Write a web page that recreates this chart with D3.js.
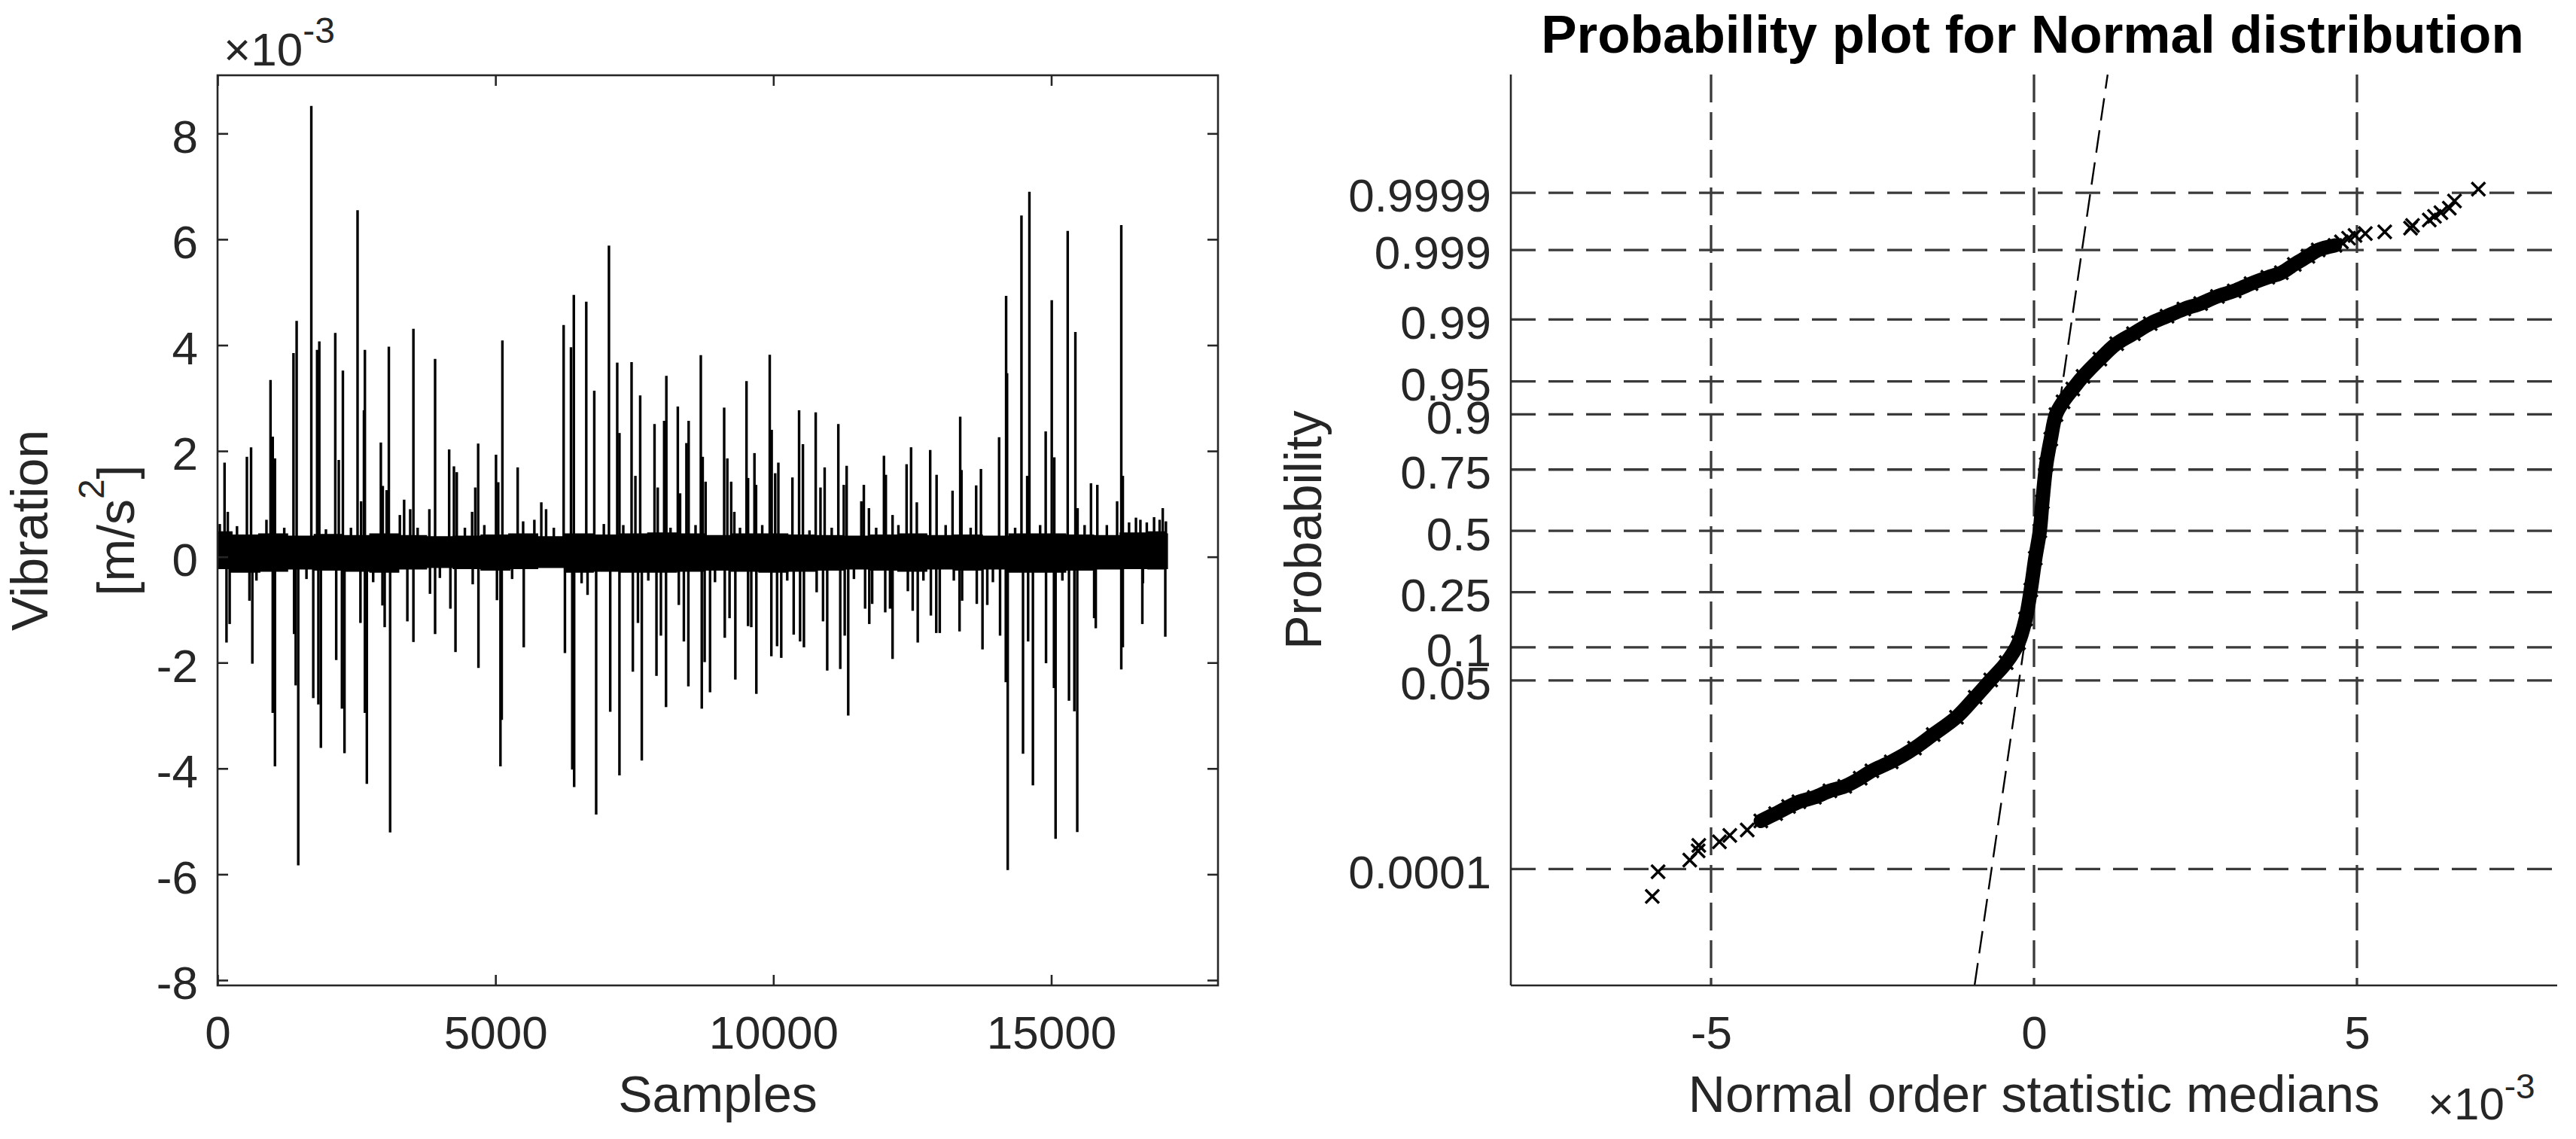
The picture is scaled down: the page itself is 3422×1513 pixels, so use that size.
<!DOCTYPE html>
<html>
<head>
<meta charset="utf-8">
<script src="https://cdn.jsdelivr.net/npm/d3@7"></script>
<style>
  body { margin: 0; background: #fff; }
  svg text { font-family: "Liberation Sans", Arial, Helvetica, sans-serif; fill: #262626; }
</style>
</head>
<body>
<script>
// ---------- left panel: vibration signal, values in 1e-3 m/s^2 ----------
const sampleTicks = [0, 5000, 10000, 15000];
const vibTicks = [-8, -6, -4, -2, 0, 2, 4, 6, 8];

// noise band envelope (read every ~500 samples)
const bandSample = [0, 500, 1000, 1500, 2000, 2500, 3000, 3500, 4000, 4500, 5000, 5500, 6000, 6500, 7000, 7500, 8000, 8500,
  9000, 9500, 10000, 10500, 11000, 11500, 12000, 12500, 13000, 13500, 14000, 14500, 15000, 15500, 16000, 16500, 17000, 17080];
const bandUpper = [0.46, 0.40, 0.42, 0.38, 0.41, 0.39, 0.42, 0.39, 0.37, 0.38, 0.40, 0.42, 0.37, 0.42, 0.40, 0.42, 0.44, 0.42,
  0.39, 0.42, 0.42, 0.40, 0.39, 0.38, 0.40, 0.42, 0.39, 0.40, 0.38, 0.42, 0.42, 0.40, 0.39, 0.44, 0.46, 0.42];
const bandLower = [-0.21, -0.28, -0.26, -0.22, -0.24, -0.26, -0.28, -0.22, -0.19, -0.21, -0.24, -0.21, -0.19, -0.28, -0.26, -0.28, -0.28, -0.26,
  -0.24, -0.26, -0.28, -0.26, -0.24, -0.22, -0.24, -0.26, -0.22, -0.24, -0.22, -0.28, -0.28, -0.24, -0.22, -0.21, -0.22, -0.21];

// small noise peaks sticking out of the band
const noiseSample = [40, 350, 700, 880, 1200, 1600, 1950, 2400, 2800, 3280, 3600, 4000, 4450, 4800, 5300, 5700, 6050, 6550, 6950,
  7300, 7750, 8150, 8600, 8950, 9400, 9800, 10250, 10650, 11050, 11450, 11850, 12250, 12700, 13100, 13550, 13950, 14350,
  14800, 15200, 15600, 16000, 16400, 16650, 16850, 16950];
const noiseValue = [0.62, 0.58, -0.45, 0.70, 0.55, -0.42, 0.52, 0.55, -0.48, 0.79, 0.55, -0.40, 0.55, 0.60, -0.42, 0.70, 0.55, -0.50, 0.62,
  0.60, -0.45, 0.55, 0.60, -0.48, 0.55, 0.60, -0.45, 0.50, 0.55, -0.42, 0.55, 0.60, -0.45, 0.60, 0.55, -0.48, 0.55,
  0.60, -0.45, 0.60, 0.60, 0.65, -0.50, 0.75, 0.70];

// impact spikes: sample index and peak value
const spikeSample = [
  126, 161, 184, 218, 528, 574, 603, 626, 953, 993, 993, 1033, 1033,
  1366, 1377, 1406, 1423, 1452, 1687, 1722, 1791, 1814, 1831, 1859,
  2118, 2135, 2181, 2238, 2255, 2284, 2519, 2571, 2583, 2634, 2651, 2651, 2686,
  2938, 2967, 2973, 3007, 3042, 3082, 3105, 3357, 3415, 3466, 3524, 3524,
  3811, 3822, 3914, 3914, 4167, 4189, 4253, 4281, 4304, 4580, 4591, 4637, 4689, 4694,
  5010, 5027, 5050, 5090, 5113, 5125, 5400, 5498, 5509, 5825, 5911,
  6227, 6250, 6359, 6382, 6410, 6416, 6634, 6657, 6778, 6812,
  7042, 7065, 7191, 7231, 7231, 7449, 7472, 7518, 7564, 7604, 7633,
  7862, 7897, 7920, 7977, 8035, 8069, 8075, 8281, 8299, 8322, 8390, 8436, 8471, 8476,
  8695, 8712, 8729, 8764, 8781, 8861,
  9115, 9126, 9172, 9212, 9241, 9298, 9316, 9517, 9545, 9545, 9603, 9660, 9689, 9694,
  9935, 9964, 9970, 10033, 10067, 10090, 10142, 10343, 10366, 10463, 10481, 10532, 10550,
  10762, 10779, 10848, 10894, 10923, 10969, 11169, 11204, 11267, 11284, 11319, 11347,
  11583, 11628, 11651, 11720, 11726, 11778, 11990, 12013, 12024, 12099, 12145, 12145,
  12397, 12420, 12478, 12507, 12581, 12598, 12822, 12834, 12931, 12937, 12994,
  13224, 13247, 13350, 13362, 13385, 13396, 13649, 13660, 13735, 13763, 13849,
  14062, 14079, 14182, 14188, 14205, 14217, 14464, 14492, 14567, 14584, 14607, 14670,
  14900, 14906, 15009, 15049, 15055, 15078, 15296, 15319, 15416, 15434, 15468, 15474,
  15715, 15772, 15801, 15829, 16185, 16260, 16260, 16288, 16288,
  16524, 16604, 16639, 16719, 17006, 17052, 17063];
const spikeValue = [
  1.78, -1.62, 0.85, -1.27, 1.89, -0.83, 2.07, -2.02, 3.34, 2.27, -2.95, 1.86, -3.96,
  3.85, -1.46, -2.43, 4.46, -5.83, 8.52, -2.67, 3.91, -2.79, 4.07, -3.61,
  4.23, -1.95, 1.83, -2.87, 3.52, -3.71, 6.55, -1.25, 1.05, 2.77, 3.91, -2.95, -4.29,
  2.16, -0.92, 1.34, -1.33, 1.26, 3.97, -5.21, 1.08, -1.22, 0.90, 4.31, -1.61,
  0.90, -0.70, 3.74, -1.46, 2.03, -0.98, 1.71, -1.80, 1.60, 0.85, -0.52, 1.31, 2.14, -2.10,
  1.93, -0.82, 1.41, -3.96, -3.08, 4.09, 1.69, 0.67, -1.71, 1.03, 0.90,
  4.38, -1.82, 3.96, -4.02, 4.95, -4.35, 4.82, -0.72, 3.14, -4.87,
  5.88, -2.93, 3.67, 2.34, -4.13, 3.68, -2.17, 1.53, -1.25, 3.05, -3.85,
  2.51, -2.25, 1.31, -1.49, 2.57, -2.84, 3.42, 2.84, -0.91, 1.20, -1.60, 2.15, -2.45, 2.57,
  3.81, -2.87, 1.89, -1.99, 1.42, -2.56,
  2.82, -1.53, 1.86, -1.16, 1.42, 0.85, -2.32, 3.32, 1.49, -1.31, -1.33, 1.96, 1.36, -2.59,
  3.82, -1.88, 2.40, 1.58, -1.69, 1.78, -1.91, 1.50, -1.47, 2.77, -1.60, 2.13, -1.71,
  2.73, -0.67, 1.31, -1.22, 1.69, -2.15, 2.51, -2.12, 1.36, -1.49, 1.72, -3.00,
  1.05, 1.36, -0.98, 0.92, -1.27, -0.89, 1.91, -1.05, 1.55, -0.98, 0.79, -1.93,
  1.75, -0.65, 2.07, -1.02, 1.03, -1.62, 2.02, -1.11, -1.44, 1.55, -1.44,
  1.25, -0.45, -1.41, 2.65, 1.64, -0.83, 1.35, -0.89, 1.66, -1.75, -0.91,
  2.26, -1.49, -2.37, 4.93, 3.47, -5.92, 6.45, -3.72, 1.53, -1.60, 6.90, -4.32,
  2.37, -2.01, 4.85, -2.48, 1.88, -5.33, 6.16, -2.72, -2.92, 4.25, -5.20, 0.92,
  1.39, -1.16, -1.35, 1.36, 1.05, 6.27, -2.13, 1.53, -1.71,
  0.74, 0.70, -1.27, 0.65, 0.92, -1.51, 0.67];

// ---------- right panel: normal probability plot ----------
const probTicks = [0.0001, 0.05, 0.1, 0.25, 0.5, 0.75, 0.9, 0.95, 0.99, 0.999, 0.9999];
const probTickLabels = ["0.0001", "0.05", "0.1", "0.25", "0.5", "0.75", "0.9", "0.95", "0.99", "0.999", "0.9999"];
const medianTicks = [-5, 0, 5];

// dense body of the sorted data (x in 1e-3)
const curveValue = [-4.23, -4.00, -3.64, -3.40, -3.16, -2.93, -2.69, -2.51, -2.21, -1.85, -1.56, -1.20, -0.91, -0.67, -0.43, -0.24, -0.13, -0.05,
  0.02, 0.09, 0.13, 0.19, 0.26, 0.34, 0.45, 0.60, 0.76, 1.02, 1.28, 1.54, 1.80, 2.06, 2.32, 2.58, 2.84, 3.10, 3.36, 3.62, 3.83, 4.03, 4.24, 4.40, 4.66];
const curveProb = [7.11e-4, 9.36e-4, 0.00144, 0.00169, 0.00212, 0.00248, 0.00326, 0.00415, 0.00554, 0.00842, 0.01255, 0.0202, 0.0336, 0.0505, 0.0735, 0.1093, 0.166, 0.258,
  0.382, 0.5, 0.6255, 0.7673, 0.8438, 0.8997, 0.9222, 0.9406, 0.9554, 0.9706, 0.9803, 0.985, 0.9887, 0.9909, 0.99266, 0.99379, 0.99506, 0.99585, 0.99674, 0.99736, 0.99774, 0.99831, 0.99874, 0.999, 0.999155];

// sparse tails, one marker each
const tailValue = [-5.91, -5.82, -5.33, -5.20, -5.19, -4.87, -4.71, -4.44, -3.80,
  4.76, 4.87, 4.97, 5.13, 5.43, 5.83, 5.86, 6.12, 6.20, 6.30, 6.43, 6.51, 6.88, 8.52];
const tailProb = [2.91e-5, 8.84e-5, 1.47e-4, 2.16e-4, 2.70e-4, 3.13e-4, 4.04e-4, 5.01e-4, 1.22e-3,
  0.999264, 0.999359, 0.999423, 0.999462, 0.999499, 0.999566, 0.99961, 0.999687, 0.99973, 0.999767, 0.999807, 0.999858, 0.999915, 0.999971];

// reference line end points
const fitValue = [-0.92, 1.14];
const fitProb = [2.87e-7, 0.99999974];

// inverse standard normal cdf (Acklam)
function probit(p) {
  const a = [-39.69683028665376, 220.9460984245205, -275.9285104469687, 138.3577518672690, -30.66479806614716, 2.506628277459239];
  const b = [-54.47609879822406, 161.5858368580409, -155.6989798598866, 66.80131188771972, -13.28068155288572];
  const c = [-0.007784894002430293, -0.3223964580411365, -2.400758277161838, -2.549732539343734, 4.374664141464968, 2.938163982698783];
  const d = [0.007784695709041462, 0.3224671290700398, 2.445134137142996, 3.754408661907416];
  const plow = 0.02425;
  if (p < plow) {
    const q = Math.sqrt(-2 * Math.log(p));
    return (((((c[0] * q + c[1]) * q + c[2]) * q + c[3]) * q + c[4]) * q + c[5]) / ((((d[0] * q + d[1]) * q + d[2]) * q + d[3]) * q + 1);
  }
  if (p > 1 - plow) {
    const q = Math.sqrt(-2 * Math.log(1 - p));
    return -(((((c[0] * q + c[1]) * q + c[2]) * q + c[3]) * q + c[4]) * q + c[5]) / ((((d[0] * q + d[1]) * q + d[2]) * q + d[3]) * q + 1);
  }
  const q = p - 0.5, r = q * q;
  return (((((a[0] * r + a[1]) * r + a[2]) * r + a[3]) * r + a[4]) * r + a[5]) * q / (((((b[0] * r + b[1]) * r + b[2]) * r + b[3]) * r + b[4]) * r + 1);
}

const w = 3422, h = 1513;
const axisColor = "#262626";
const tickFont = 62, labelFont = 68;

const svg = d3.select("body").append("svg")
  .attr("width", w).attr("height", h)
  .style("background", "#fff");

function styleAxis(g) {
  g.select(".domain").remove();
  g.selectAll(".tick line").attr("stroke", axisColor).attr("stroke-width", 2.6);
  g.selectAll(".tick text").attr("fill", axisColor).style("font-size", tickFont + "px");
}

// ================= left panel =================
const L = { left: 289, right: 1618, top: 100, bottom: 1309 };
const xScale = d3.scaleLinear().domain([0, 18000]).range([L.left, L.right]);
const yScale = d3.scaleLinear().domain([-8.1, 9.1]).range([L.bottom, L.top]);

svg.append("clipPath").attr("id", "clipL").append("rect")
  .attr("x", L.left).attr("y", L.top).attr("width", L.right - L.left).attr("height", L.bottom - L.top);

const sig = svg.append("g").attr("clip-path", "url(#clipL)");

const band = bandSample.map((s, i) => ({ s, hi: bandUpper[i], lo: bandLower[i] }));
sig.append("path")
  .datum(band)
  .attr("fill", "#000")
  .attr("stroke", "#000")
  .attr("stroke-width", 3)
  .attr("d", d3.area().curve(d3.curveStep).x(d => xScale(d.s)).y0(d => yScale(d.lo)).y1(d => yScale(d.hi)));

const lines = spikeSample.map((s, i) => ({ s, v: spikeValue[i] }))
  .concat(noiseSample.map((s, i) => ({ s, v: noiseValue[i] })));
sig.selectAll(".spike")
  .data(lines)
  .enter()
  .append("line")
  .attr("class", "spike")
  .attr("x1", d => xScale(d.s))
  .attr("x2", d => xScale(d.s))
  .attr("y1", yScale(0.1))
  .attr("y2", d => yScale(d.v))
  .attr("stroke", "#000")
  .attr("stroke-width", 3.4);

svg.append("g")
  .attr("transform", `translate(0,${L.bottom})`)
  .call(d3.axisBottom(xScale).tickValues(sampleTicks).tickSizeInner(-14).tickSizeOuter(0).tickPadding(40).tickFormat(d => String(d)))
  .call(styleAxis);
svg.append("g")
  .attr("transform", `translate(0,${L.top})`)
  .call(d3.axisTop(xScale).tickValues(sampleTicks).tickSizeInner(-14).tickSizeOuter(0).tickFormat(""))
  .call(styleAxis);
svg.append("g")
  .attr("transform", `translate(${L.left},0)`)
  .call(d3.axisLeft(yScale).tickValues(vibTicks).tickSizeInner(-14).tickSizeOuter(0).tickPadding(26).tickFormat(d => String(d)))
  .call(styleAxis)
  .call(g => g.selectAll(".tick text").attr("dy", "0.4em"));
svg.append("g")
  .attr("transform", `translate(${L.right},0)`)
  .call(d3.axisRight(yScale).tickValues(vibTicks).tickSizeInner(-14).tickSizeOuter(0).tickFormat(""))
  .call(styleAxis);

svg.append("rect")
  .attr("x", L.left).attr("y", L.top)
  .attr("width", L.right - L.left).attr("height", L.bottom - L.top)
  .attr("fill", "none").attr("stroke", axisColor).attr("stroke-width", 2.6);

// exponent label
const expL = svg.append("text").attr("x", 297).attr("y", 87).style("font-size", "62px");
expL.append("tspan").text("\u00d710");
expL.append("tspan").attr("dy", -30).style("font-size", "48px").text("-3");

svg.append("text")
  .attr("x", (L.left + L.right) / 2).attr("y", 1477)
  .attr("text-anchor", "middle").style("font-size", labelFont + "px")
  .text("Samples");

svg.append("text")
  .attr("transform", `translate(63,${(L.top + L.bottom) / 2}) rotate(-90)`)
  .attr("text-anchor", "middle").style("font-size", labelFont + "px")
  .text("Vibration");
const unit = svg.append("text")
  .attr("transform", `translate(178,${(L.top + L.bottom) / 2}) rotate(-90)`)
  .attr("text-anchor", "middle").style("font-size", labelFont + "px");
unit.append("tspan").text("[m/s");
unit.append("tspan").attr("dy", -40).style("font-size", "48px").text("2");
unit.append("tspan").attr("dy", 40).text("]");

// ================= right panel =================
const R = { left: 2007, right: 3397, top: 99, bottom: 1309 };
const xProb = d3.scaleLinear().domain([-8.1, 8.1]).range([R.left, R.right]);
const zScale = d3.scaleLinear().domain([-5.0, 5.02]).range([R.bottom, R.top]);
const yProb = p => zScale(probit(p));

svg.append("clipPath").attr("id", "clipR").append("rect")
  .attr("x", R.left).attr("y", R.top).attr("width", R.right - R.left).attr("height", R.bottom - R.top);

const plot = svg.append("g").attr("clip-path", "url(#clipR)");

// dashed probability grid
plot.selectAll(".hgrid")
  .data(probTicks)
  .enter()
  .append("line")
  .attr("class", "hgrid")
  .attr("x1", R.left).attr("x2", R.right)
  .attr("y1", d => yProb(d)).attr("y2", d => yProb(d))
  .attr("stroke", "#3a3a3a").attr("stroke-width", 3.3)
  .attr("stroke-dasharray", "33,17");
plot.selectAll(".vgrid")
  .data(medianTicks)
  .enter()
  .append("line")
  .attr("class", "vgrid")
  .attr("x1", d => xProb(d)).attr("x2", d => xProb(d))
  .attr("y1", R.top).attr("y2", R.bottom)
  .attr("stroke", "#3a3a3a").attr("stroke-width", 3.3)
  .attr("stroke-dasharray", "37,13");

// reference line
plot.append("path")
  .datum(fitValue.map((v, i) => ({ v, p: fitProb[i] })))
  .attr("fill", "none").attr("stroke", "#000").attr("stroke-width", 2.4)
  .attr("stroke-dasharray", "30,13")
  .attr("d", d3.line().x(d => xProb(d.v)).y(d => yProb(d.p)));

// dense body: overlapping markers drawn as a thick band
const curve = curveValue.map((v, i) => ({ v, p: curveProb[i] }));
plot.append("path")
  .datum(curve)
  .attr("fill", "none").attr("stroke", "#000").attr("stroke-width", 19)
  .attr("stroke-linecap", "round").attr("stroke-linejoin", "round")
  .attr("d", d3.line().curve(d3.curveCatmullRom).x(d => xProb(d.v)).y(d => yProb(d.p)));

const cross = "M-9,-9L9,9M-9,9L9,-9";
const markers = curve.concat(tailValue.map((v, i) => ({ v, p: tailProb[i] })));
plot.selectAll(".mk")
  .data(markers)
  .enter()
  .append("path")
  .attr("class", "mk")
  .attr("transform", d => `translate(${xProb(d.v)},${yProb(d.p)})`)
  .attr("d", cross)
  .attr("fill", "none").attr("stroke", "#000").attr("stroke-width", 3.5);

// axes (no tick marks, left and bottom only)
svg.append("g")
  .attr("transform", `translate(${R.left},0)`)
  .call(d3.axisLeft(zScale).tickValues(probTicks.map(probit)).tickSize(0).tickPadding(26)
    .tickFormat((d, i) => probTickLabels[i]))
  .call(styleAxis)
  .call(g => g.selectAll(".tick text").attr("dy", "0.4em"));
svg.append("g")
  .attr("transform", `translate(0,${R.bottom})`)
  .call(d3.axisBottom(xProb).tickValues(medianTicks).tickSize(0).tickPadding(40).tickFormat(d => String(d)))
  .call(styleAxis);

svg.append("line")
  .attr("x1", R.left).attr("x2", R.left).attr("y1", R.top).attr("y2", R.bottom)
  .attr("stroke", axisColor).attr("stroke-width", 2.6);
svg.append("line")
  .attr("x1", R.left).attr("x2", R.right).attr("y1", R.bottom).attr("y2", R.bottom)
  .attr("stroke", axisColor).attr("stroke-width", 2.6);

svg.append("text")
  .attr("x", 2700).attr("y", 70)
  .attr("text-anchor", "middle")
  .style("font-size", "71px").style("font-weight", "bold").style("fill", "#000")
  .text("Probability plot for Normal distribution");

svg.append("text")
  .attr("x", (R.left + R.right) / 2).attr("y", 1477)
  .attr("text-anchor", "middle").style("font-size", labelFont + "px")
  .text("Normal order statistic medians");

svg.append("text")
  .attr("transform", `translate(1755,${(R.top + R.bottom) / 2}) rotate(-90)`)
  .attr("text-anchor", "middle").style("font-size", labelFont + "px")
  .text("Probability");

const expR = svg.append("text").attr("x", 3225).attr("y", 1487).style("font-size", "60px");
expR.append("tspan").text("\u00d710");
expR.append("tspan").attr("dy", -28).style("font-size", "46px").text("-3");
</script>
</body>
</html>
